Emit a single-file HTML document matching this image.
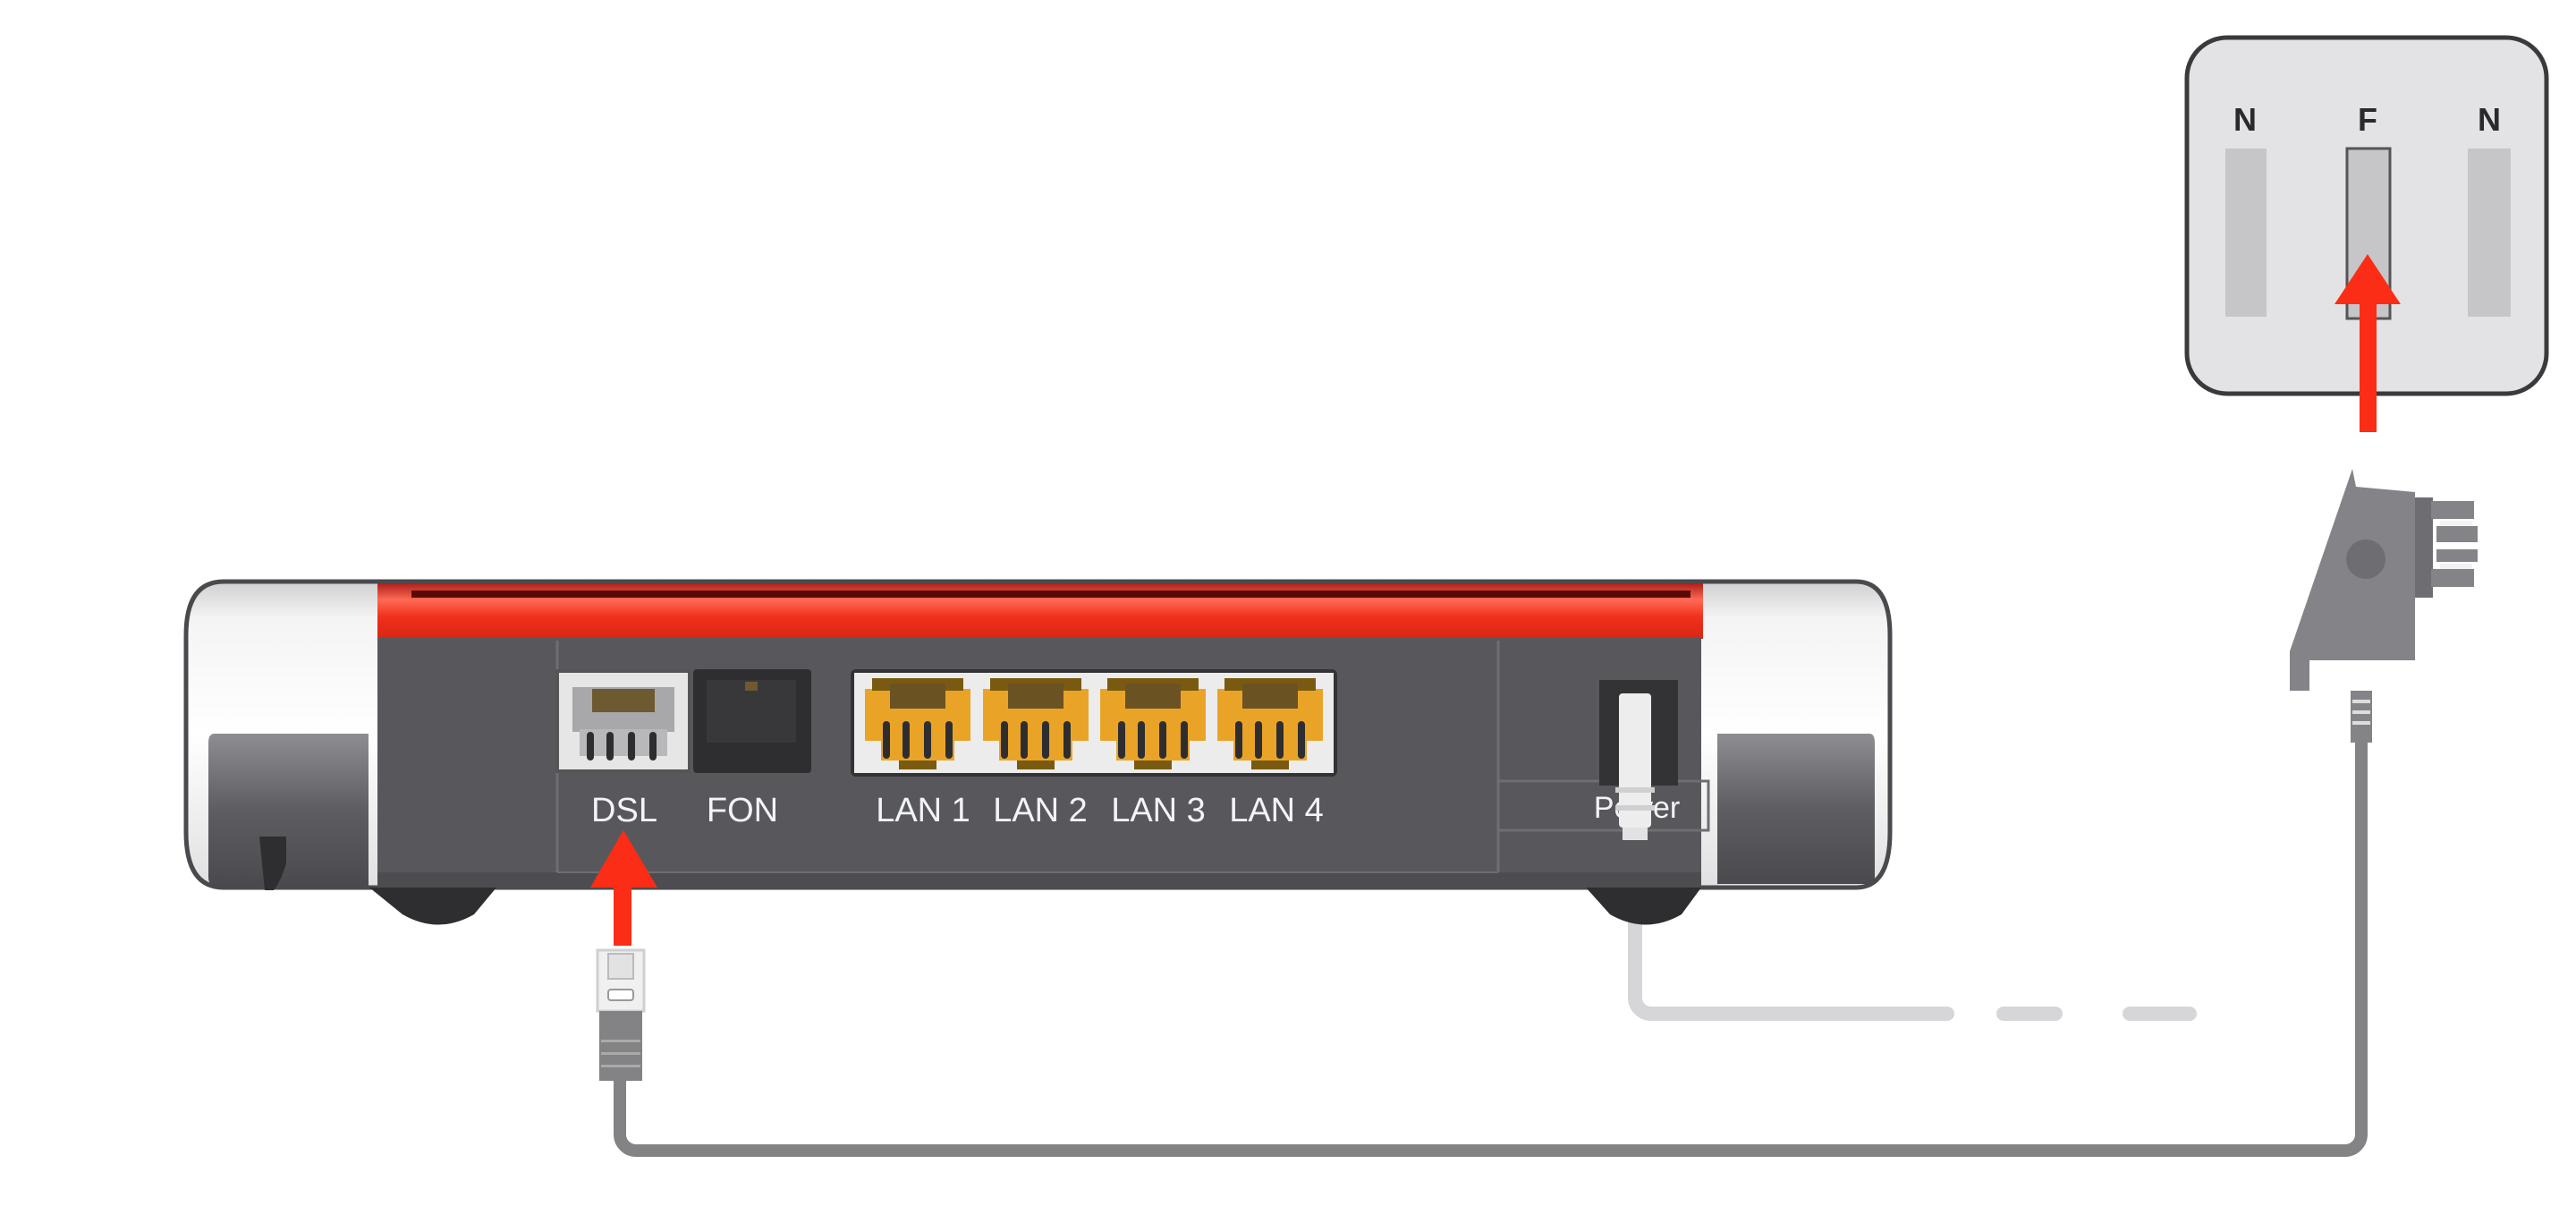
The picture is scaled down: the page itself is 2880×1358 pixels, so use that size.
<!DOCTYPE html>
<html><head><meta charset="utf-8"><style>
html,body{margin:0;padding:0;background:#fff;}
svg{display:block;}
text{font-family:"Liberation Sans",sans-serif;}
</style></head><body>
<svg width="2880" height="1358" viewBox="0 0 2880 1358" xmlns="http://www.w3.org/2000/svg">
<defs>
<linearGradient id="cap" x1="0" y1="0" x2="0" y2="1">
<stop offset="0" stop-color="#d0d0d2"/><stop offset="0.12" stop-color="#f4f4f4"/><stop offset="0.5" stop-color="#ffffff"/><stop offset="1" stop-color="#e0e0e2"/>
</linearGradient>
<linearGradient id="blk" x1="0" y1="0" x2="0" y2="1">
<stop offset="0" stop-color="#8e8e92"/><stop offset="0.5" stop-color="#5e5e62"/><stop offset="1" stop-color="#4a4a4e"/>
</linearGradient>
<linearGradient id="red" x1="0" y1="0" x2="0" y2="1">
<stop offset="0" stop-color="#b0201a"/><stop offset="0.3" stop-color="#ff6a55"/><stop offset="0.6" stop-color="#f0301c"/><stop offset="1" stop-color="#d82614"/>
</linearGradient>
<g id="lan">
<rect x="0" y="12" width="118" height="58" fill="#e9a427"/>
<rect x="8" y="0" width="102" height="14" fill="#7a5a10"/>
<rect x="28" y="6" width="62" height="28" fill="#6a5222"/>
<rect x="18" y="70" width="82" height="22" fill="#e9a427"/>
<rect x="20" y="48" width="8" height="42" rx="4" fill="#2e2e30"/>
<rect x="42" y="48" width="8" height="42" rx="4" fill="#2e2e30"/>
<rect x="66" y="48" width="8" height="42" rx="4" fill="#2e2e30"/>
<rect x="90" y="48" width="8" height="42" rx="4" fill="#2e2e30"/>
<rect x="38" y="92" width="42" height="10" fill="#7a5a10"/>
</g>
</defs>

<!-- Wall socket -->
<rect x="2445" y="42" width="402" height="398" rx="45" fill="#e3e3e5" stroke="#3a3a3c" stroke-width="5"/>
<text x="2510" y="146" font-size="36" font-weight="bold" fill="#2a2a2e" text-anchor="middle">N</text>
<text x="2647" y="146" font-size="36" font-weight="bold" fill="#2a2a2e" text-anchor="middle">F</text>
<text x="2783" y="146" font-size="36" font-weight="bold" fill="#2a2a2e" text-anchor="middle">N</text>
<rect x="2488" y="166" width="46" height="188" fill="#c6c6c8"/>
<rect x="2624" y="166" width="48" height="190" fill="#c6c6c8" stroke="#555" stroke-width="3"/>
<rect x="2759" y="166" width="48" height="188" fill="#c6c6c8"/>
<rect x="2638" y="335" width="19" height="148" fill="#fb2d16"/>
<polygon points="2647,284 2684,340 2610,340" fill="#fb2d16"/>

<!-- Cables -->
<path d="M693 1200 V1268 a18 18 0 0 0 18 18 H2622 a18 18 0 0 0 18 -18 V820" fill="none" stroke="#838386" stroke-width="14"/>
<path d="M1828 930 V1115 a18 18 0 0 0 18 18 H2177" fill="none" stroke="#d6d6d8" stroke-width="16" stroke-linecap="round"/>
<line x1="2240" y1="1133" x2="2298" y2="1133" stroke="#d6d6d8" stroke-width="16" stroke-linecap="round"/>
<line x1="2381" y1="1133" x2="2448" y2="1133" stroke="#d6d6d8" stroke-width="16" stroke-linecap="round"/>

<!-- TAE plug -->
<polygon points="2630,524 2634,544 2700,550 2700,738 2582,738 2582,772 2560,772 2560,728" fill="#848488"/>
<rect x="2700" y="556" width="20" height="112" fill="#6e6e72"/>
<rect x="2718" y="560" width="48" height="20" fill="#848488"/>
<rect x="2724" y="588" width="46" height="18" fill="#848488"/>
<rect x="2724" y="614" width="46" height="14" fill="#848488"/>
<rect x="2718" y="636" width="48" height="20" fill="#848488"/>
<rect x="2728" y="582" width="36" height="6" fill="#f2f2f2"/>
<rect x="2728" y="630" width="36" height="6" fill="#f2f2f2"/>
<circle cx="2645" cy="625" r="22" fill="#6e6e72"/>
<rect x="2628" y="772" width="24" height="58" fill="#848488"/>
<rect x="2630" y="782" width="20" height="4" fill="#ddd"/><rect x="2630" y="794" width="20" height="4" fill="#ddd"/><rect x="2630" y="806" width="20" height="4" fill="#ddd"/>

<!-- Router -->
<path d="M250 650 H2075 q38 0 38 60 V930 q0 62 -38 62 H250 q-42 0 -42 -62 V710 q0 -60 42 -60 Z" fill="url(#cap)" stroke="#4a4a4e" stroke-width="5"/>
<rect x="422" y="652" width="1482" height="62" fill="url(#red)"/>
<rect x="460" y="660" width="1430" height="8" fill="#5a0a06"/>
<rect x="422" y="713" width="1480" height="262" fill="#58585c"/>
<rect x="422" y="975" width="1480" height="18" fill="#4d4d51"/>
<line x1="623" y1="716" x2="623" y2="975" stroke="#6e6e72" stroke-width="3"/>
<line x1="1675" y1="716" x2="1675" y2="975" stroke="#6e6e72" stroke-width="3"/>
<line x1="623" y1="975" x2="1675" y2="975" stroke="#6e6e72" stroke-width="2"/>
<path d="M240 820 H412 V990 H240 Q233 990 233 980 V830 Q233 820 240 820 Z" fill="url(#blk)"/>
<path d="M290 935 h30 v30 q-6 20 -14 30 h-10 z" fill="#2e2e30"/>
<path d="M1920 820 H2090 Q2096 820 2096 830 V980 Q2096 988 2088 988 H1920 Z" fill="url(#blk)"/>
<path d="M413 992 H555 L530 1022 Q490 1045 450 1022 Z" fill="#2e2e30"/>
<path d="M1773 992 H1902 L1880 1022 Q1840 1045 1800 1022 Z" fill="#2e2e30"/>
<!-- DSL port -->
<rect x="621" y="748" width="152" height="116" fill="#555" />
<rect x="625" y="752" width="144" height="108" fill="#e6e6e6"/>
<rect x="640" y="768" width="114" height="50" fill="#a8a8aa"/>
<rect x="662" y="770" width="70" height="26" fill="#6e5a30"/>
<rect x="648" y="815" width="98" height="30" fill="#b8b8ba"/>
<rect x="656" y="818" width="8" height="32" rx="4" fill="#2e2e30"/>
<rect x="678" y="818" width="8" height="32" rx="4" fill="#2e2e30"/>
<rect x="702" y="818" width="8" height="32" rx="4" fill="#2e2e30"/>
<rect x="726" y="818" width="8" height="32" rx="4" fill="#2e2e30"/>
<!-- FON port -->
<rect x="775" y="748" width="132" height="116" rx="4" fill="#2e2e30"/>
<rect x="790" y="760" width="100" height="70" fill="#38383b"/>
<rect x="833" y="762" width="14" height="10" fill="#6e5a30"/>
<!-- LAN -->
<rect x="951" y="748" width="544" height="120" rx="6" fill="#333336"/>
<rect x="955" y="752" width="536" height="112" fill="#ececec"/>
<use href="#lan" x="967" y="758"/>
<use href="#lan" x="1099" y="758"/>
<use href="#lan" x="1230" y="758"/>
<use href="#lan" x="1361" y="758"/>
<g font-size="38" fill="#f2f4f8" text-anchor="middle">
<text x="698" y="918">DSL</text>
<text x="830" y="918">FON</text>
<text x="1032" y="918">LAN 1</text>
<text x="1163" y="918">LAN 2</text>
<text x="1295" y="918">LAN 3</text>
<text x="1427" y="918">LAN 4</text>
</g>
<!-- Power -->
<rect x="1675" y="873" width="235" height="55" fill="none" stroke="#6e6e72" stroke-width="3"/>
<rect x="1788" y="760" width="88" height="118" fill="#333336"/>
<text x="1830" y="914" font-size="34" fill="#f2f4f8" text-anchor="middle">Power</text>
<rect x="1810" y="775" width="36" height="150" rx="4" fill="#ededed"/>
<rect x="1806" y="880" width="44" height="6" fill="#d0d0d2"/>
<rect x="1806" y="900" width="44" height="6" fill="#d0d0d2"/>
<rect x="1814" y="925" width="28" height="14" fill="#e2e2e4"/>

<!-- DSL arrow -->
<rect x="686" y="985" width="20" height="72" fill="#fb2d16"/>
<polygon points="697,928 735,992 660,992" fill="#fb2d16"/>
<!-- DSL plug -->
<rect x="668" y="1062" width="52" height="68" fill="#f0f0f0" stroke="#cfcfd1" stroke-width="3"/>
<rect x="680" y="1066" width="28" height="28" fill="#e2e2e2" stroke="#bbb" stroke-width="2"/>
<rect x="680" y="1106" width="28" height="12" rx="3" fill="#fff" stroke="#999" stroke-width="2"/>
<rect x="670" y="1130" width="48" height="78" fill="#838386"/>
<rect x="672" y="1162" width="44" height="3" fill="#aaa"/><rect x="672" y="1176" width="44" height="3" fill="#aaa"/><rect x="672" y="1190" width="44" height="3" fill="#aaa"/>
</svg>
</body></html>
